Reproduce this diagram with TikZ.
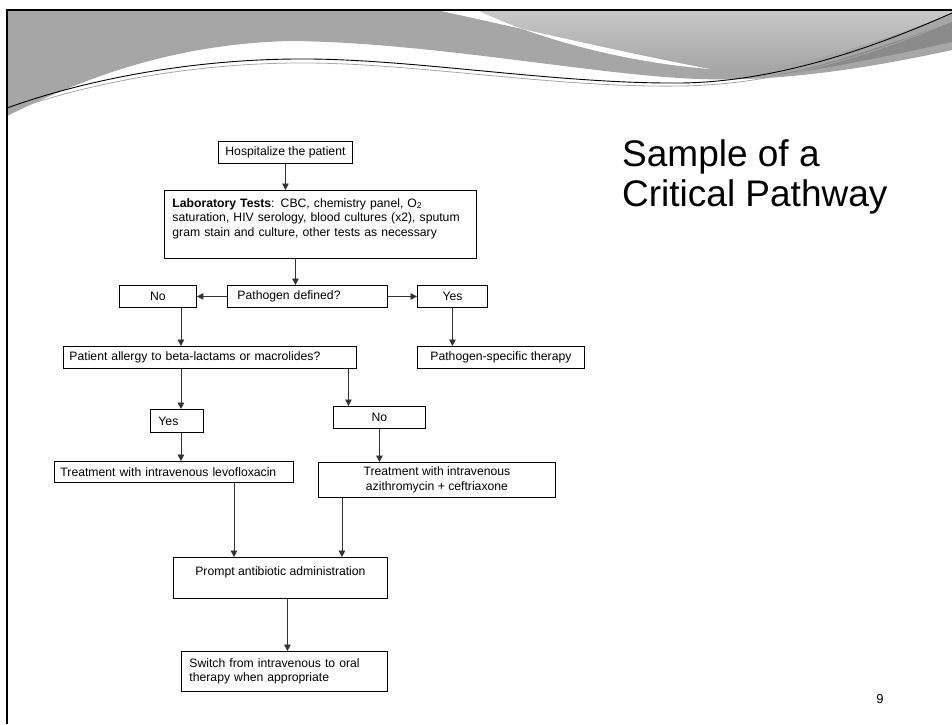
\documentclass[tikz,border=0pt]{standalone}
\usepackage{fontspec}
\setmainfont{Liberation Sans}
\usetikzlibrary{arrows.meta}
\definecolor{wavegray}{RGB}{166,166,166}
\definecolor{wavelight}{RGB}{200,200,200}
\definecolor{wavedark}{RGB}{138,138,138}
\definecolor{linegray}{RGB}{50,50,50}

\begin{document}
\begin{tikzpicture}[x=1pt,y=-1pt,
    box/.style={draw, line width=0.9pt, anchor=north west, inner xsep=6pt, inner ysep=0pt,
      font=\fontsize{12.2}{14.5}\selectfont},
    arr/.style={-{Triangle[length=6.5pt,width=6.5pt]}, line width=0.9pt, draw=linegray}]
  \useasboundingbox (0,0) rectangle (952,724);

  % slide header waves
  \fill[wavegray] (7,10) -- (952,10) -- (952,50)
    .. controls (870,68) and (780,82) .. (700,79)
    .. controls (600,76) and (430,42) .. (290,41)
    .. controls (170,44) and (80,80) .. (7,116) -- cycle;
  \shade[top color=wavelight, bottom color=wavegray] (437,10) -- (952,10) -- (952,13)
    .. controls (890,38) and (820,62) .. (760,68)
    .. controls (740,69) and (720,69) .. (710,69)
    .. controls (620,52) and (520,28) .. (437,10) -- cycle;
  \fill[white] (437,10) .. controls (520,28) and (620,52) .. (710,69)
    .. controls (620,62) and (530,36) .. (477,10) -- cycle;
  \fill[wavedark] (952,22) -- (952,42) .. controls (880,58) and (820,70) .. (770,76)
    .. controls (830,66) and (900,40) .. (952,22) -- cycle;
  \draw[gray!70, line width=0.8pt] (7,112) .. controls (90,82) and (200,62) .. (310,63)
    .. controls (420,64) and (560,88) .. (680,86)
    .. controls (780,85) and (880,52) .. (952,21);
  \draw[black, line width=0.9pt] (7,108) .. controls (90,78) and (200,58) .. (310,59)
    .. controls (420,60) and (560,84) .. (680,83)
    .. controls (780,82) and (880,45) .. (952,13);
  \draw[line width=2pt] (952,10) -- (7,10) -- (7,724);

  % flowchart
  \node[box, minimum width=134pt, minimum height=22pt] (hosp) at (218,141) {Hospitalize the patient};
  \node[box, text width=296pt, inner xsep=8pt, minimum height=68pt, align=left] (lab) at (164,190)
    {\textbf{Laboratory Tests}: CBC, chemistry panel, O\textsubscript{2}\\
     saturation, HIV serology, blood cultures (x2), sputum\\
     gram stain and culture, other tests as necessary\\ ~};
  \node[box, text width=140pt, inner xsep=10pt, minimum height=22pt, align=left] (pathogen) at (227,285) {Pathogen defined?};
  \node[box, minimum width=77pt, minimum height=22pt] (no) at (119,285) {No};
  \node[box, minimum width=70pt, minimum height=22pt] (yes) at (417,285) {Yes};
  \node[box, text width=281pt, minimum height=22pt, align=left] (allergy) at (63,346)
    {Patient allergy to beta-lactams or macrolides?};
  \node[box, minimum width=167pt, minimum height=22pt] (specific) at (417,346) {Pathogen-specific therapy};
  \node[box, text width=37pt, inner xsep=8pt, minimum height=23pt, align=left] (yes2) at (150,409) {Yes};
  \node[box, minimum width=92pt, minimum height=22pt] (no2) at (333,406) {No};
  \node[box, text width=227pt, minimum height=21pt, align=left] (levo) at (54,461)
    {Treatment with intravenous levofloxacin};
  \node[box, minimum width=237pt, minimum height=35pt, align=center] (azi) at (318,462)
    {Treatment with intravenous\\azithromycin + ceftriaxone};
  \node[box, minimum width=214pt, minimum height=41pt, align=center] (prompt) at (173,557)
    {Prompt antibiotic administration\\ ~};
  \node[box, text width=190pt, inner xsep=8pt, minimum height=40pt, align=left] (oral) at (181,651)
    {Switch from intravenous to oral\\therapy when appropriate};

  \draw[arr] (hosp.south) -- (hosp.south |- lab.north);
  \draw[arr] ([xshift=-12pt]pathogen.north |- lab.south) -- ([xshift=-12pt]pathogen.north);
  \draw[arr] (pathogen.west) -- (no.east);
  \draw[arr] (pathogen.east) -- (yes.west);
  \draw[arr] ([xshift=23pt]no.south) -- ([xshift=23pt]no.south |- allergy.north);
  \draw[arr] (yes.south) -- (yes.south |- specific.north);
  \draw[arr] ([xshift=4pt]yes2.north |- allergy.south) -- ([xshift=4pt]yes2.north);
  \draw[arr] ([xshift=-31pt]no2.north |- allergy.south) -- ([xshift=-31pt]no2.north);
  \draw[arr] ([xshift=4pt]yes2.south) -- ([xshift=4pt]yes2.south |- levo.north);
  \draw[arr] (no2.south) -- (no2.south |- azi.north);
  \draw[arr] ([xshift=60pt]levo.south) -- ([xshift=60pt]levo.south |- prompt.north);
  \draw[arr] ([xshift=-95pt]azi.south) -- ([xshift=-95pt]azi.south |- prompt.north);
  \draw[arr] ([xshift=7pt]prompt.south) -- ([xshift=7pt]prompt.south |- oral.north);

  % title and page number
  \node[anchor=north west, align=left, inner sep=0pt, font=\fontsize{37}{40}\selectfont] (title) at (622,139)
    {Sample of a\\Critical Pathway};
  \node[font=\fontsize{13}{15}\selectfont] (page) at (880,699) {9};
\end{tikzpicture}
\end{document}
